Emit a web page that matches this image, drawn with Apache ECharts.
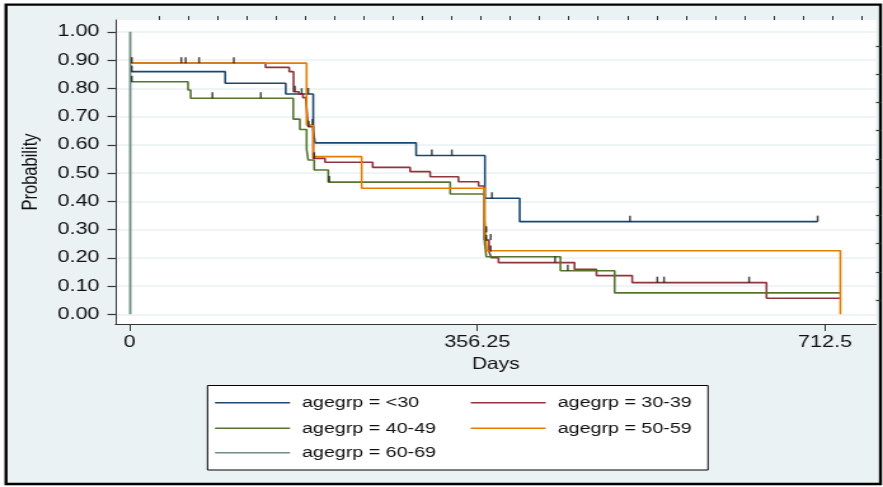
<!DOCTYPE html>
<html><head><meta charset="utf-8">
<script src="https://cdn.jsdelivr.net/npm/echarts@6/dist/echarts.min.js"></script>
<style>
html,body{margin:0;padding:0;background:#fff;overflow:hidden;width:883px;height:487px;}
#chart{position:absolute;left:0;top:0;width:695px;height:487px;transform:scaleX(1.270504);transform-origin:0 0;}
</style></head><body><div id="chart"></div>
<script>
const SX = 883 / 695;
const FONT = 'Liberation Sans, Arial, sans-serif';

const groups = ['agegrp = <30', 'agegrp = 30-39', 'agegrp = 40-49', 'agegrp = 50-59', 'agegrp = 60-69'];
const colors = ['#1A476F', '#90353B', '#55752F', '#E37E00', '#6E8E84'];

// Kaplan-Meier step curves: time of change (days) and survival after it
const t_lt30 = [1, 98, 160, 188.2, 190, 293.6, 364.1, 399.7, 705];
const s_lt30 = [0.859, 0.818, 0.780, 0.650, 0.607, 0.562, 0.411, 0.328, 0.328];

const t_30_39 = [1, 139.3, 163.6, 168, 173.5, 177.6, 180.7, 183, 188.2, 200.2, 249.1, 287.5, 308, 337, 357.6, 363.5, 368.3, 370.6, 378, 455.9, 478.4, 515, 652.6, 728];
const s_30_39 = [0.889, 0.874, 0.859, 0.788, 0.779, 0.767, 0.759, 0.664, 0.552, 0.538, 0.520, 0.505, 0.487, 0.469, 0.454, 0.263, 0.222, 0.200, 0.183, 0.159, 0.137, 0.112, 0.057, 0.057];

const t_40_49 = [1, 59.9, 62.6, 167.7, 174.5, 181.4, 183, 189.2, 203.6, 328.5, 363.8, 365.5, 441.5, 497, 728];
const s_40_49 = [0.823, 0.794, 0.765, 0.691, 0.654, 0.584, 0.546, 0.511, 0.468, 0.426, 0.252, 0.204, 0.154, 0.076, 0.076];

const t_50_59 = [1, 181.4, 188.2, 237.8, 363.7, 366, 728.3];
const s_50_59 = [0.889, 0.670, 0.558, 0.446, 0.334, 0.225, 0.0];

const t_60_69 = [0.7, 0.7];
const s_60_69 = [1.0, 0.0];

// censoring marks (time, survival level)
const ct_lt30 = [2.3, 183.1, 309.7, 330.2, 371.3, 512.7, 705];
const cs_lt30 = [0.859, 0.780, 0.562, 0.562, 0.411, 0.328, 0.328];
const ct_30_39 = [53, 57.5, 71.2, 106.8, 169.4, 176.3, 183.5, 189.2, 370, 370, 436, 540.7, 547.6, 634.8];
const cs_30_39 = [0.889, 0.889, 0.889, 0.889, 0.788, 0.779, 0.664, 0.552, 0.263, 0.222, 0.183, 0.112, 0.112, 0.112];
const ct_40_49 = [2.3, 84.9, 134.5, 204.6, 365.5, 449];
const cs_40_49 = [0.823, 0.765, 0.765, 0.468, 0.26, 0.154];
const ct_50_59 = [2.3, 187.5, 365.5];
const cs_50_59 = [0.889, 0.670, 0.29];

const xMajor = [0, 356.25, 712.5];
const xMinor = [30, 60, 90, 120, 150, 180, 210, 240, 270, 300, 330, 360, 390, 420, 450, 480, 510, 540, 570, 600, 630, 660, 690, 720, 750];
const yMajor = [0, 0.1, 0.2, 0.3, 0.4, 0.5, 0.6, 0.7, 0.8, 0.9, 1.0];
const yMinor = [0.05, 0.15, 0.25, 0.35, 0.45, 0.55, 0.65, 0.75, 0.85, 0.95];

const T = [t_lt30, t_30_39, t_40_49, t_50_59, t_60_69];
const S = [s_lt30, s_30_39, s_40_49, s_50_59, s_60_69];
const CT = [ct_lt30, ct_30_39, ct_40_49, ct_50_59];
const CS = [cs_lt30, cs_30_39, cs_40_49, cs_50_59];

const pts = (t, s) => t.map((x, i) => [x, s[i]]);

const X_MIN = -14.4, X_MAX = 764.8, Y_MIN = -0.0343, Y_MAX = 1.0418;
const axisCol = '#333';

const series = [];
groups.forEach((g, i) => {
  series.push({
    name: g, type: 'line', step: 'end', data: pts(T[i], S[i]),
    symbol: 'none', silent: true, z: 2 + i,
    color: colors[i],
    lineStyle: { color: colors[i], width: i === 4 ? 1.9 : 1.6 },
    itemStyle: { color: colors[i] }
  });
});
CT.forEach((c, i) => {
  series.push({
    name: 'censored ' + groups[i], type: 'scatter', data: pts(c, CS[i]),
    symbol: 'rect', symbolSize: [1.5, 6], symbolOffset: [0, '-50%'],
    itemStyle: { color: '#1a1a1a' }, silent: true, z: 10
  });
});

const legPos = [[215, 393.7], [470.7, 393.7], [215, 419.3], [470.7, 419.3], [215, 443.7]];
const legends = groups.map((g, i) => ({
  data: [g], left: legPos[i][0] / SX, top: legPos[i][1], padding: 0,
  itemWidth: 75 / SX, itemHeight: 1.5, icon: 'rect', selectedMode: false,
  textStyle: { fontFamily: FONT, fontSize: 15.5, color: '#111', lineHeight: 18, padding: [0, 0, 0, 4.4] }
}));

const chart = echarts.init(document.getElementById('chart'), null, { renderer: 'canvas' });
chart.setOption({
  animation: false,
  backgroundColor: '#fff',
  graphic: [
    { type: 'rect', z: -5, silent: true,
      shape: { x: 6 / SX, y: 4.6, width: (880.5 - 6) / SX, height: 479.4 },
      style: { fill: '#EAF2F3', stroke: '#000', lineWidth: 2.4 } },
    { type: 'rect', z: 1, silent: true,
      shape: { x: 207.5 / SX, y: 385.5, width: (708 - 207.5) / SX, height: 84.5 },
      style: { fill: '#fff', stroke: '#000', lineWidth: 1 } }
  ],
  legend: legends,
  grid: { left: 115.5 / SX, right: 695 - 876 / SX, top: 20, bottom: 163, show: true, backgroundColor: '#fff', borderWidth: 0 },
  xAxis: [
    { type: 'value', min: X_MIN, max: X_MAX,
      axisLine: { show: true, onZero: false, lineStyle: { color: axisCol, width: 1.2 } },
      axisTick: { show: true, customValues: xMajor, length: 7, lineStyle: { color: axisCol, width: 1 } },
      axisLabel: { customValues: xMajor, formatter: v => String(v), margin: 10, fontFamily: FONT, fontSize: 17, color: '#111' },
      splitLine: { show: false },
      name: 'Days', nameLocation: 'middle', nameGap: 30,
      nameTextStyle: { fontFamily: FONT, fontSize: 16.5, color: '#111' } },
    { type: 'value', min: X_MIN, max: X_MAX,
      axisLine: { show: false, onZero: false },
      axisTick: { show: true, customValues: xMinor, length: 4, lineStyle: { color: axisCol, width: 1 } },
      axisLabel: { show: false }, splitLine: { show: false } }
  ],
  yAxis: [
    { type: 'value', min: Y_MIN, max: Y_MAX,
      axisLine: { show: true, onZero: false, lineStyle: { color: axisCol, width: 1 } },
      axisTick: { show: true, customValues: yMajor, length: 8 / SX, lineStyle: { color: axisCol, width: 1.2 } },
      axisLabel: { customValues: yMajor, formatter: v => v.toFixed(2), margin: 16 / SX, fontFamily: FONT, fontSize: 17, color: '#111' },
      splitLine: { show: true, lineStyle: { color: '#EAF2F3', width: 1.6 } },
      name: 'Probability', nameLocation: 'middle', nameGap: 58, nameRotate: 90,
      nameTextStyle: { fontFamily: FONT, fontSize: 16.5, color: '#111' } },
    { type: 'value', min: Y_MIN, max: Y_MAX,
      axisLine: { show: false, onZero: false },
      axisTick: { show: true, customValues: yMinor, length: 5 / SX, lineStyle: { color: axisCol, width: 1.2 } },
      axisLabel: { show: false }, splitLine: { show: false } }
  ],
  series: series
});
</script></body></html>
